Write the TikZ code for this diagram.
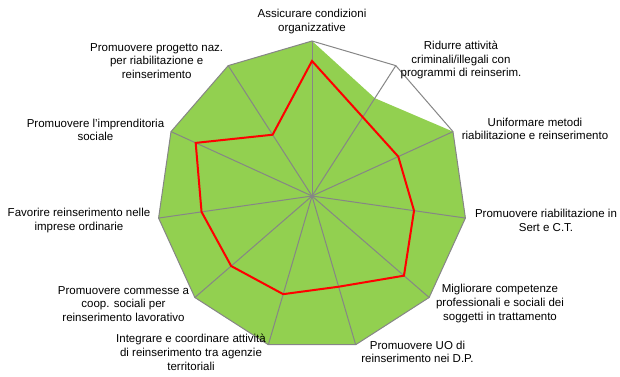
\documentclass[tikz,border=0pt]{standalone}
\usepackage{fontspec}
\setmainfont{Liberation Sans}
\definecolor{seriesgreen}{RGB}{146,208,80}
\definecolor{gridgray}{RGB}{134,134,134}
\begin{document}
\begin{tikzpicture}[x=1pt,y=1pt,
  axislabel/.style={font=\fontsize{11.5}{13.6}\selectfont, align=center, text=black, inner sep=0pt},
  gridline/.style={draw=gridgray, line width=1pt},
  greenarea/.style={fill=seriesgreen},
  redline/.style={draw=red, line width=2pt, line join=miter}]
\useasboundingbox (0,0) rectangle (620,376);
\def\R{155}
\coordinate (c) at (312,180);
% axis end points
\foreach \k in {0,...,10}
  \path (c) ++({90-\k*360/11}:\R) coordinate (v\k);
% green series (full scale except the second axis)
\path (c) ++({90-360/11}:{0.75*\R}) coordinate (g1);
\fill[greenarea] (v0) -- (g1) -- (v2) -- (v3) -- (v4) -- (v5) -- (v6)
  -- (v7) -- (v8) -- (v9) -- (v10) -- cycle;
% grid: spokes and outer ring
\foreach \k in {0,...,10}
  \draw[gridline] (c) -- (v\k);
\draw[gridline] (v0) -- (v1) -- (v2) -- (v3) -- (v4) -- (v5) -- (v6)
  -- (v7) -- (v8) -- (v9) -- (v10) -- cycle;
% red series
\foreach \k/\v in {0/0.871,1/0.605,2/0.612,3/0.665,4/0.785,5/0.61,6/0.66,7/0.69,8/0.72,9/0.825,10/0.47}
  \path (c) ++({90-\k*360/11}:{\v*\R}) coordinate (r\k);
\draw[redline] (r0) -- (r1) -- (r2) -- (r3) -- (r4) -- (r5) -- (r6)
  -- (r7) -- (r8) -- (r9) -- (r10) -- cycle;
% axis labels
\node[axislabel] (l0) at (312,354.5) {Assicurare condizioni\\organizzative};
\node[axislabel] (l1) at (461,316) {Ridurre attività\\criminali/illegali con\\programmi di reinserim.};
\node[axislabel] (l2) at (535,247) {Uniformare metodi\\riabilitazione e reinserimento};
\node[axislabel] (l3) at (546,155.5) {Promuovere riabilitazione in\\Sert e C.T.};
\node[axislabel] (l4) at (500,72.5) {Migliorare competenze\\professionali e sociali dei\\soggetti in trattamento};
\node[axislabel] (l5) at (417.5,24.3) {Promuovere UO di\\reinserimento nei D.P.};
\node[axislabel] (l6) at (191,23.7) {Integrare e coordinare attività\\di reinserimento tra agenzie\\territoriali};
\node[axislabel] (l7) at (123.5,72) {Promuovere commesse a\\coop. sociali per\\reinserimento lavorativo};
\node[axislabel] (l8) at (79,155.7) {Favorire reinserimento nelle\\imprese ordinarie};
\node[axislabel] (l9) at (95.5,246.3) {Promuovere l'imprenditoria\\sociale};
\node[axislabel] (l10) at (156.7,315.3) {Promuovere progetto naz.\\per riabilitazione e\\reinserimento};
\end{tikzpicture}
\end{document}
